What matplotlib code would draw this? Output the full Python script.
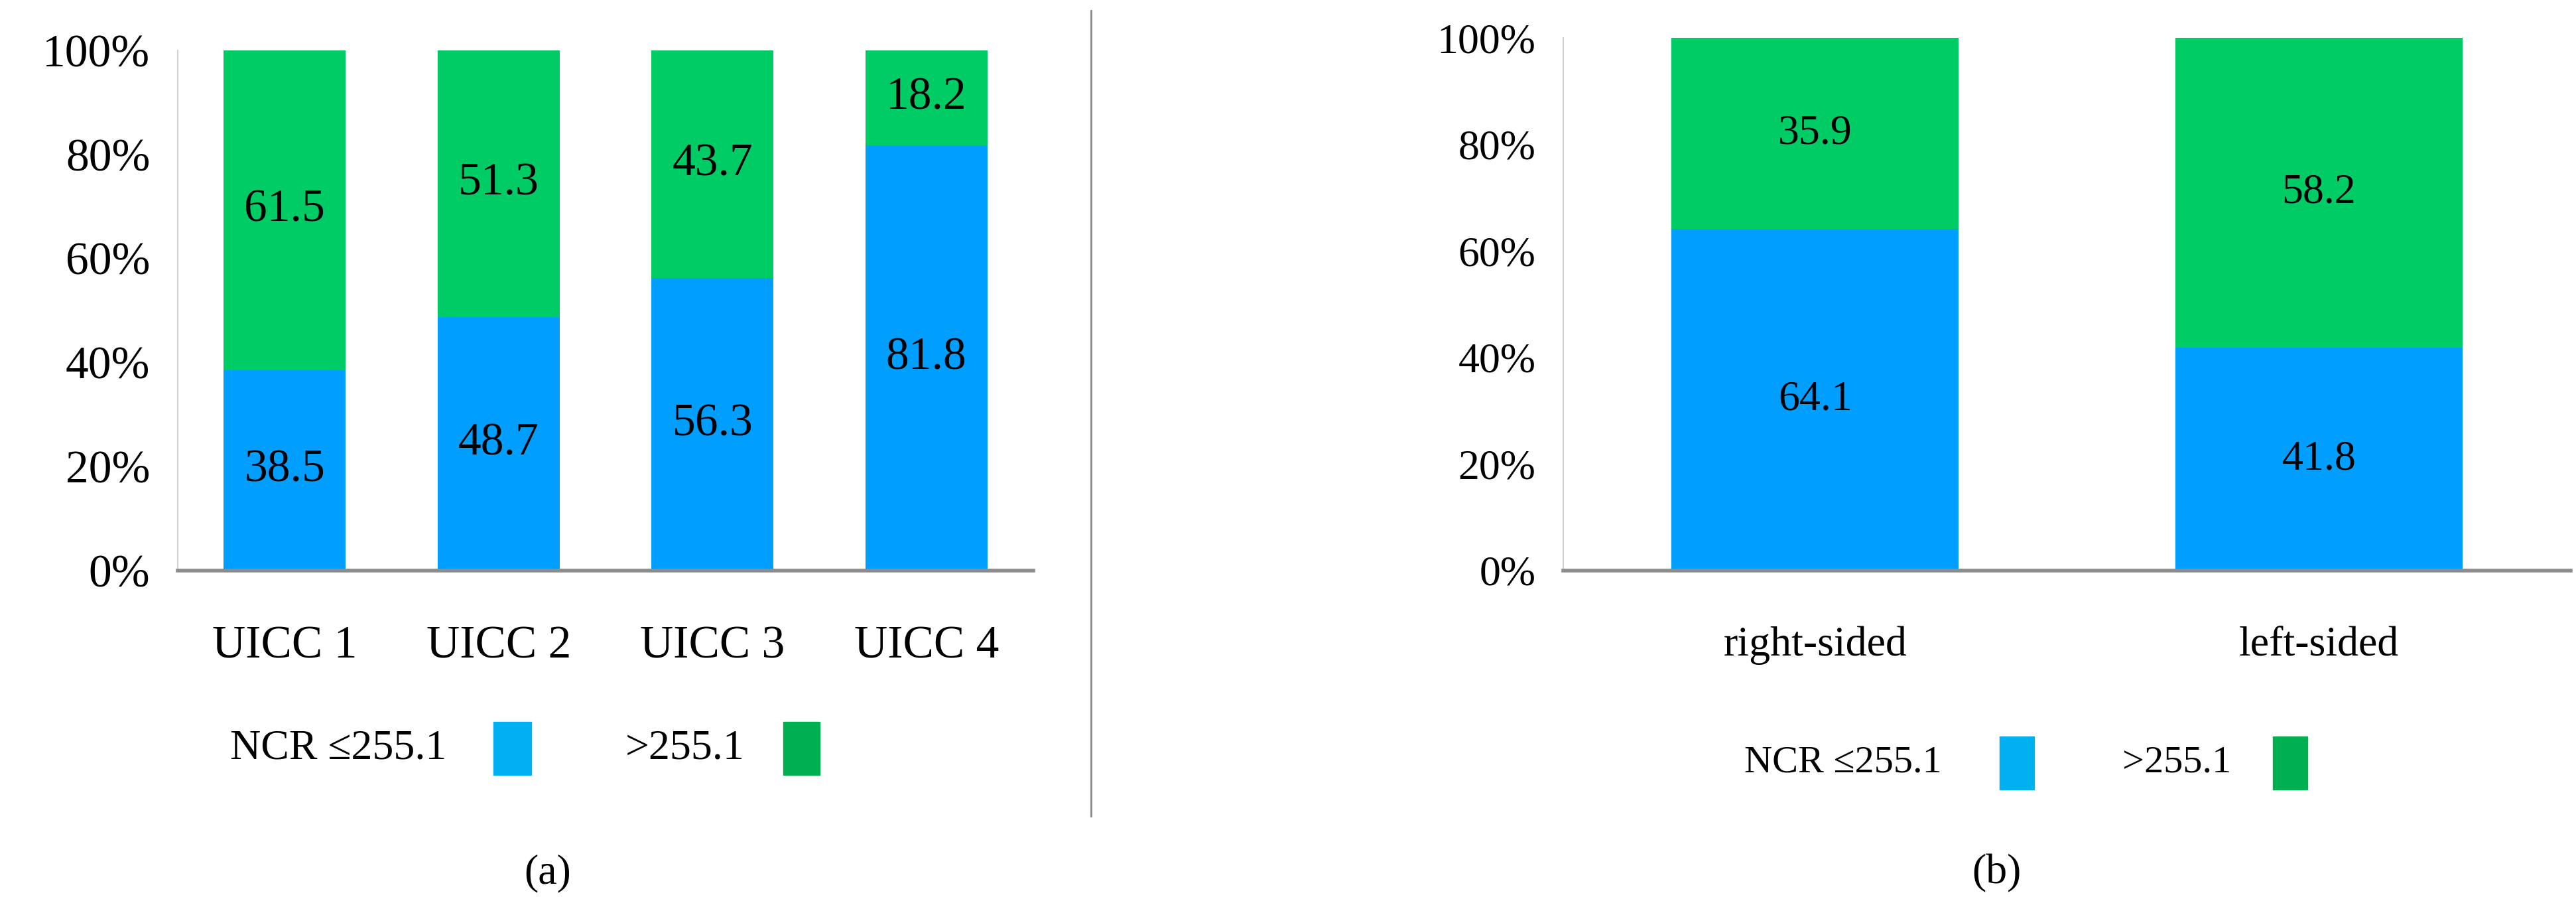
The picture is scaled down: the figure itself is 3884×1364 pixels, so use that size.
import matplotlib.pyplot as plt
import numpy as np

plt.rcParams['font.family'] = ['Liberation Serif', 'DejaVu Serif']

BLUE = '#009EFF'
GREEN = '#00CC66'
LEG_BLUE = '#00B0F0'
LEG_GREEN = '#00B050'

stage_labels = ['UICC 1', 'UICC 2', 'UICC 3', 'UICC 4']
stage_low = [38.5, 48.7, 56.3, 81.8]
stage_high = [61.5, 51.3, 43.7, 18.2]

side_labels = ['right-sided', 'left-sided']
side_low = [64.1, 41.8]
side_high = [35.9, 58.2]

W, H = 3884, 1364
fig = plt.figure(figsize=(W / 100, H / 100), dpi=100)


def panel(rect, labels, low, high, fs):
    ax = fig.add_axes(rect)
    x = np.arange(len(labels))
    ax.bar(x, low, width=0.57, color=BLUE)
    ax.bar(x, high, bottom=low, width=0.57, color=GREEN)
    for xi, lo, hi in zip(x, low, high):
        ax.text(xi, lo / 2, f'{lo}', ha='center', va='center', fontsize=fs)
        ax.text(xi, lo + hi / 2, f'{hi}', ha='center', va='center', fontsize=fs)
    ax.set_xlim(-0.5, len(labels) - 0.5)
    ax.set_ylim(0, 100)
    ax.set_yticks(range(0, 101, 20))
    ax.set_yticklabels([f'{v}%' for v in range(0, 101, 20)])
    ax.set_xticks(x)
    ax.set_xticklabels(labels)
    ax.tick_params(length=0, labelsize=fs, pad=30)
    ax.tick_params(axis='x', pad=60)
    for s in ['top', 'right']:
        ax.spines[s].set_visible(False)
    ax.spines['left'].set_color('#d0d0d0')
    ax.spines['left'].set_linewidth(1.5)
    ax.spines['bottom'].set_color('#8c8c8c')
    ax.spines['bottom'].set_linewidth(4)
    return ax


# left panel: x 268..1558, y 76..860
panel([268 / W, 1 - 860 / H, 1290 / W, 784 / H], stage_labels, stage_low, stage_high, 50)
# right panel: x 2357..3876, y 57..860
panel([2357 / W, 1 - 860 / H, 1519 / W, 803 / H], side_labels, side_low, side_high, 46)

# divider
fig.add_artist(plt.Line2D([1645 / W, 1645 / W], [1 - 1230 / H, 1 - 16 / H],
                          color='#888888', lw=2))


def legend_row(y, items, fs):
    for tx, label, sx, sw, col in items:
        fig.text(tx / W, 1 - y / H, label, ha='left', va='center', fontsize=fs)
        fig.patches.append(plt.Rectangle((sx / W, 1 - (y + 40) / H), sw / W, 80 / H,
                                         transform=fig.transFigure, color=col))


legend_row(1128, [(347, 'NCR ≤255.1', 744, 57, LEG_BLUE),
                  (943, '>255.1', 1181, 55, LEG_GREEN)], 46)
legend_row(1150, [(2630, 'NCR ≤255.1', 3015, 52, LEG_BLUE),
                  (3200, '>255.1', 3427, 52, LEG_GREEN)], 42)

fig.text(826 / W, 1 - 1316 / H, '(a)', ha='center', va='center', fontsize=46)
fig.text(3010 / W, 1 - 1316 / H, '(b)', ha='center', va='center', fontsize=46)

fig.savefig('out.png', dpi=100)
